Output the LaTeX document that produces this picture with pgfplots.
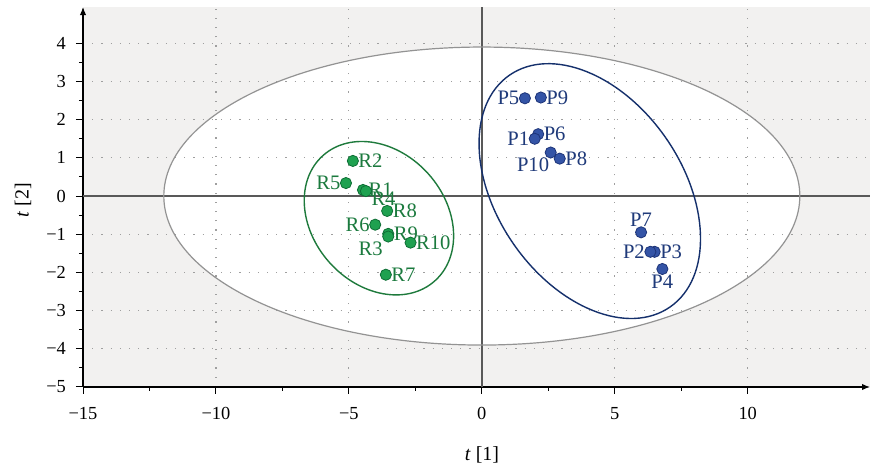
\documentclass[border=0pt]{standalone}
\usepackage{fontspec}
\setmainfont{Liberation Serif}
\usepackage{pgfplots}
\pgfplotsset{compat=1.18}
\usetikzlibrary{arrows.meta}
\definecolor{bgGray}{HTML}{F2F1F0}
\definecolor{gFill}{HTML}{1FA150}
\definecolor{gEdge}{HTML}{0E6E35}
\definecolor{gText}{HTML}{1B7A3E}
\definecolor{gEll}{HTML}{1E7A3C}
\definecolor{bFill}{HTML}{3454A6}
\definecolor{bEdge}{HTML}{1D3478}
\definecolor{bText}{HTML}{1F3A7A}
\definecolor{bEll}{HTML}{15306C}

\pgfplotsset{
  grp/.style={only marks, mark=*, mark size=2.8pt,
    mark options={fill=gFill, draw=gEdge, line width=0.4pt},
    nodes near coords, point meta=explicit symbolic,
    every node near coord/.append style={font=\fontsize{10.3}{11}\selectfont, text=gText, inner sep=2.6pt}},
  bgrp/.style={only marks, mark=*, mark size=2.8pt,
    mark options={fill=bFill, draw=bEdge, line width=0.4pt},
    nodes near coords, point meta=explicit symbolic,
    every node near coord/.append style={font=\fontsize{10.3}{11}\selectfont, text=bText, inner sep=2.6pt}},
  anc/.style={every node near coord/.append style={anchor=#1}},
}

\begin{document}
\begin{tikzpicture}
\begin{axis}[
  set layers,
  scale only axis, width=393.5pt, height=190pt,
  xmin=-15, xmax=14.6, ymin=-5, ymax=4.95,
  axis lines=left,
  axis line style={black, line width=0.6pt, -{Latex[length=4pt,width=3.2pt]}},
  xtick={-15,-10,...,10}, xticklabels={−15,−10,−5,0,5,10},
  ytick={-5,...,4}, yticklabels={−5,−4,−3,−2,−1,0,1,2,3,4},
  minor x tick num=1, minor y tick num=1,
  tick align=outside,
  major tick length=3.5pt, minor tick length=2pt,
  tick style={black, line width=0.5pt},
  grid=major,
  major grid style={gray!75, line width=0.6pt, dash pattern=on 0.6pt off 4pt},
  tick label style={font=\fontsize{9.2}{10}\selectfont},
  xticklabel style={yshift=-3pt},
  yticklabel style={xshift=-1.5pt},
  xlabel={\textit{t} [1]}, ylabel={\textit{t} [2]},
  label style={font=\fontsize{10}{11}\selectfont},
  xlabel style={at={(axis description cs:0.507,-0.179)}, anchor=center},
  ylabel style={at={(axis description cs:-0.0762,0.492)}, anchor=center},
  clip=false,
]
\coordinate (O) at (axis cs:-15,-5);
\begin{pgfonlayer}{axis background}
  \fill[bgGray] (rel axis cs:0,0) rectangle (rel axis cs:1,1);
  \fill[white] (axis cs:0,0) ellipse [x radius=159pt, y radius=74.5pt];
\end{pgfonlayer}
\draw[black!65, line width=0.7pt] (axis cs:0,-5) -- (axis cs:0,4.95);
\draw[black!65, line width=0.7pt] (axis cs:-15,0) -- (axis cs:14.6,0);
\draw[gray!85, line width=0.6pt] (axis cs:0,0) ellipse [x radius=159pt, y radius=74.5pt];
\draw[gEll, line width=0.7pt] (axis cs:-3.87,-0.58) ellipse [x radius=42pt, y radius=33.2pt, rotate=-48.3];
\draw[bEll, line width=0.7pt] (axis cs:4.06,0.13) ellipse [x radius=70.5pt, y radius=46.4pt, rotate=-55.3];

% R group
\addplot[grp, anc=west] coordinates {(-4.85,0.92) [R2] (-4.47,0.16) [R1] (-3.56,-0.39) [R8] (-3.52,-0.99) [R9] (-2.68,-1.22) [R10] (-3.61,-2.06) [R7]};
\addplot[grp, anc=east] coordinates {(-5.11,0.34) [R5] (-4.01,-0.75) [R6]};
\addplot[grp, anc=north west, every node near coord/.append style={yshift=2.5pt}] coordinates {(-4.36,0.13) [R4]};
\addplot[grp, anc=north east] coordinates {(-3.52,-1.06) [R3]};

% P group
\addplot[bgrp, anc=west] coordinates {(2.22,2.58) [P9] (2.12,1.62) [P6] (2.93,0.98) [P8] (6.50,-1.46) [P3]};
\addplot[bgrp, anc=east] coordinates {(1.62,2.56) [P5] (1.99,1.50) [P1] (6.34,-1.46) [P2]};
\addplot[bgrp, anc=north east, every node near coord/.append style={xshift=2pt}] coordinates {(2.59,1.14) [P10]};
\addplot[bgrp, anc=south] coordinates {(5.99,-0.95) [P7]};
\addplot[bgrp, anc=north] coordinates {(6.79,-1.91) [P4]};
\end{axis}
\pgfresetboundingbox
\path[use as bounding box] ([xshift=-41.5pt,yshift=-41.5pt]O) rectangle ++(438pt,235pt);
\end{tikzpicture}
\end{document}
